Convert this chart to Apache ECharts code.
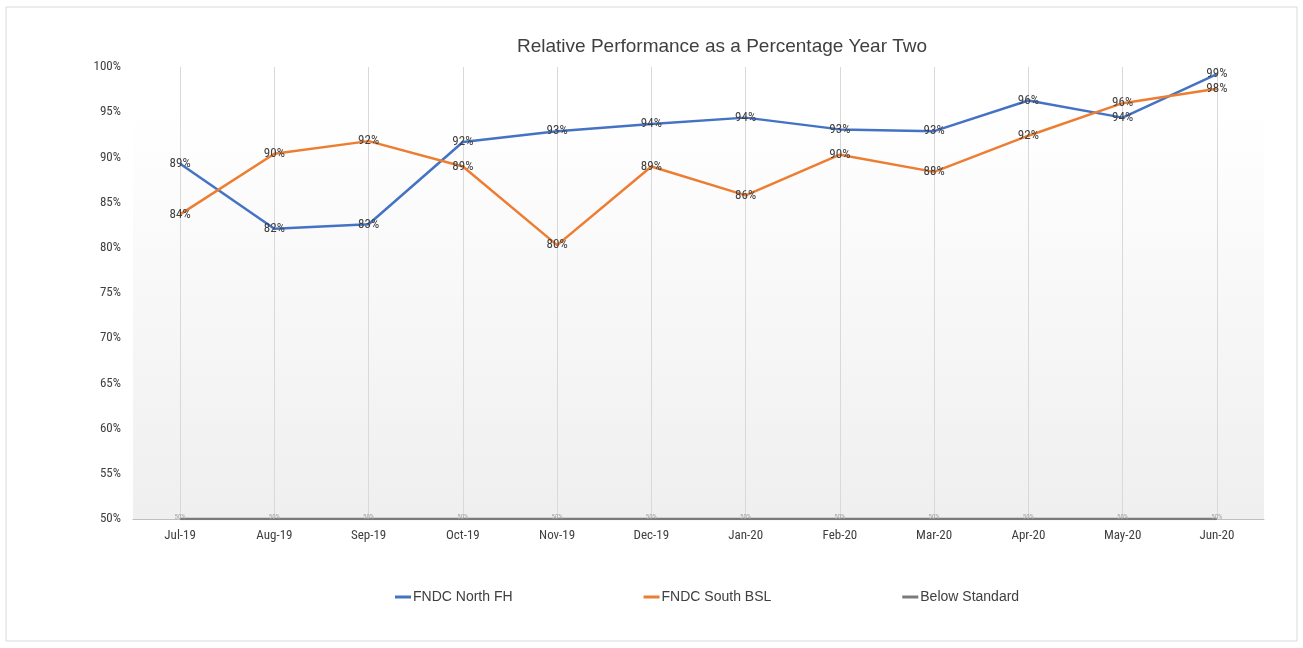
<!DOCTYPE html>
<html>
<head>
<meta charset="utf-8">
<script src="https://cdn.jsdelivr.net/npm/echarts@6/dist/echarts.min.js"></script>
<style>
  html, body { margin: 0; padding: 0; background: #fff; }
  #chart { width: 1303px; height: 648px; }
</style>
</head>
<body>
<div id="chart"></div>
<script>
// data
const months = ['Jul-19', 'Aug-19', 'Sep-19', 'Oct-19', 'Nov-19', 'Dec-19',
                'Jan-20', 'Feb-20', 'Mar-20', 'Apr-20', 'May-20', 'Jun-20'];
const northFH = [89.3, 82.1, 82.6, 91.7, 92.9, 93.7, 94.4, 93.1, 92.9, 96.3, 94.4, 99.2];
const southBSL = [83.7, 90.4, 91.8, 89.0, 80.3, 89.0, 85.8, 90.3, 88.4, 92.4, 96.0, 97.6];
const belowStandard = [50, 50, 50, 50, 50, 50, 50, 50, 50, 50, 50, 50];
const yTicks = { min: 50, max: 100, step: 5 };

const font = "'Liberation Sans', Arial, sans-serif";
const narrow = "'Liberation Sans Narrow', 'Roboto Condensed', 'Liberation Sans', sans-serif";
const txt = '#404040';

let myChart = echarts.init(document.getElementById('chart'));

function lineSeries(name, data, color, labelStyle) {
  return {
    name: name,
    type: 'line',
    data: data,
    symbol: 'circle',
    symbolSize: 0.1,
    lineStyle: { color: color, width: 2.5 },
    itemStyle: { color: color },
    label: Object.assign({
      show: true,
      position: 'inside',
      formatter: p => Math.round(p.value) + '%'
    }, labelStyle),
    emphasis: { disabled: true },
    animation: false
  };
}

myChart.setOption({
  backgroundColor: '#fff',
  title: {
    text: 'Relative Performance as a Percentage Year Two',
    left: 512,
    top: 32,
    textStyle: { fontFamily: font, fontSize: 19, fontWeight: 'normal', color: txt }
  },
  legend: {
    left: 390,
    top: 585,
    itemGap: 131,
    itemWidth: 16,
    itemHeight: 3,
    icon: 'rect',
    textStyle: { fontFamily: font, fontSize: 14, color: txt, padding: [0, 0, 0, -3] },
    data: ['FNDC North FH', 'FNDC South BSL', 'Below Standard']
  },
  graphic: [{
    type: 'rect',
    shape: { x: 6, y: 7, width: 1291, height: 634 },
    style: { fill: 'none', stroke: '#d9d9d9', lineWidth: 1 },
    silent: true
  }],
  grid: {
    left: 133,
    right: 39,
    top: 67,
    bottom: 129,
    show: true,
    borderWidth: 0,
    backgroundColor: {
      type: 'linear', x: 0, y: 0, x2: 0, y2: 1,
      colorStops: [
        { offset: 0, color: '#ffffff' },
        { offset: 0.1, color: '#ffffff' },
        { offset: 1, color: '#efefef' }
      ]
    }
  },
  xAxis: {
    type: 'category',
    data: months,
    boundaryGap: true,
    axisLine: { lineStyle: { color: '#bfbfbf', width: 1 } },
    axisTick: { show: false },
    axisLabel: { fontFamily: narrow, fontSize: 13, color: txt, margin: 10 },
    splitLine: { show: true, alignWithLabel: true, lineStyle: { color: '#d9d9d9', width: 1 } }
  },
  yAxis: {
    type: 'value',
    min: yTicks.min,
    max: yTicks.max,
    interval: yTicks.step,
    axisLine: { show: false },
    axisTick: { show: false },
    splitLine: { show: false },
    axisLabel: { fontFamily: narrow, fontSize: 13, color: txt, margin: 12, formatter: '{value}%' }
  },
  series: [
    lineSeries('FNDC North FH', northFH, '#4472C4',
      { fontFamily: narrow, fontSize: 13, color: txt }),
    lineSeries('FNDC South BSL', southBSL, '#ED7D31',
      { fontFamily: narrow, fontSize: 13, color: txt }),
    lineSeries('Below Standard', belowStandard, '#7a7a7a',
      { fontFamily: narrow, fontSize: 7, color: '#a6a6a6', offset: [0, -2] })
  ]
});
</script>
</body>
</html>
